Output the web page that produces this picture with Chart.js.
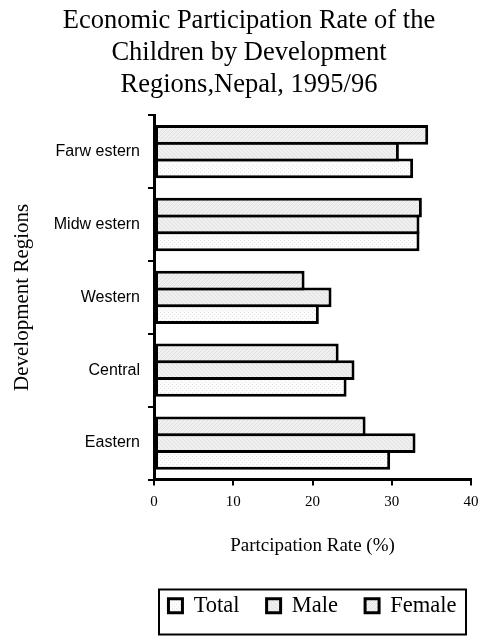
<!DOCTYPE html>
<html>
<head>
<meta charset="utf-8">
<script src="https://cdn.jsdelivr.net/npm/chart.js@4/dist/chart.umd.min.js"></script>
<style>
  html, body { margin: 0; padding: 0; background: #fff; }
  #wrap { width: 483px; height: 637px; position: relative; }
</style>
</head>
<body>
<div id="wrap"><canvas id="chart" width="483" height="637"></canvas></div>
<script>
// data
const regions = ['Farw estern', 'Midw estern', 'Western', 'Central', 'Eastern']
const totalRate = [32.7, 33.5, 20.8, 24.3, 29.8]
const maleRate = [30.9, 33.5, 22.4, 25.3, 33.0]
const femaleRate = [34.6, 33.8, 19.0, 23.3, 26.7]
const xTicks = [0, 10, 20, 30, 40]

const titleLines = ['Economic Participation Rate of the', 'Children by Development', 'Regions,Nepal, 1995/96']

// small fill patterns like the old spreadsheet hatching
const makePattern = (base, ink, kind) => {
    const c = document.createElement('canvas')
    c.width = 4
    c.height = 4
    const g = c.getContext('2d')
    g.fillStyle = base
    g.fillRect(0, 0, 4, 4)
    g.fillStyle = ink
    if (kind === 'dots') {
        g.fillRect(0, 0, 1, 1)
        g.fillRect(2, 2, 1, 1)
    } else if (kind === 'diag') {
        for (let i = 0; i < 4; i++) g.fillRect(i, 3 - i, 1, 1)
    } else {
        for (let i = 0; i < 4; i++) g.fillRect(i, i, 1, 1)
    }
    return g.createPattern(c, 'repeat')
}

const serif = 'Liberation Serif'
const sans = 'Liberation Sans'

// legend box outline + centring the legend under the plot area
const legendFrame = {
    id: 'legendFrame',
    afterLayout(chart) {
        const area = chart.chartArea
        const lg = chart.legend
        const xs = chart.scales.x
        lg.left = area.left - 30
        lg.right = area.right + 30
        const pad = lg.options.labels.padding
        lg.top = xs.bottom + 44 - pad - 11
        chart.titleBlock.left += 5
        chart.titleBlock.right += 5
    },
    afterDraw(chart) {
        const area = chart.chartArea
        const xs = chart.scales.x
        const ctx = chart.ctx
        const cy = xs.bottom + 43
        ctx.save()
        ctx.strokeStyle = '#000'
        ctx.lineWidth = 2
        ctx.strokeRect(area.left + 5, cy - 15, area.right - area.left - 10, 45)
        ctx.restore()
    }
}

self.addEventListener('DOMContentLoaded', () => {
    const barStyle = {
        borderColor: '#000',
        borderWidth: 3,
        borderSkipped: false,
        categoryPercentage: 0.69,
        barPercentage: 1.18
    }

    new Chart(document.getElementById('chart'), {
        type: 'bar',
        data: {
            labels: regions,
            datasets: [
                { label: 'Female', data: femaleRate, backgroundColor: makePattern('#f0f0f0', '#e0e0e0', 'diag'), ...barStyle },
                { label: 'Male', data: maleRate, backgroundColor: makePattern('#efefef', '#e1e1e1', 'anti'), ...barStyle },
                { label: 'Total', data: totalRate, backgroundColor: makePattern('#fcfcfc', '#e6e6e6', 'dots'), ...barStyle }
            ]
        },
        plugins: [legendFrame],
        options: {
            indexAxis: 'y',
            responsive: false,
            animation: false,
            layout: { padding: { left: 5, right: 0, top: 0, bottom: 16 } },
            plugins: {
                title: {
                    display: true,
                    text: titleLines,
                    color: '#000',
                    font: { family: serif, size: 26.5, weight: 'normal', lineHeight: 1.21 },
                    padding: { top: 5, bottom: 14 }
                },
                legend: {
                    position: 'bottom',
                    reverse: true,
                    labels: {
                        color: '#000',
                        boxWidth: 14,
                        boxHeight: 14,
                        padding: 27,
                        font: { family: serif, size: 22.5 }
                    }
                },
                tooltip: { enabled: false }
            },
            scales: {
                x: {
                    min: 0,
                    max: 40,
                    afterBuildTicks: (scale) => {
                        scale.ticks = xTicks.map(v => ({ value: v }))
                    },
                    afterFit: (scale) => {
                        scale.height = 82
                        scale.paddingRight = 12
                    },
                    border: { display: true, color: '#000', width: 3 },
                    grid: { drawOnChartArea: false, color: '#000', lineWidth: 2, tickLength: 6 },
                    ticks: { color: '#000', padding: 8, font: { family: serif, size: 15 } },
                    title: {
                        display: true,
                        text: 'Partcipation Rate (%)',
                        color: '#000',
                        font: { family: serif, size: 19 },
                        padding: { top: 0, bottom: 4 }
                    }
                },
                y: {
                    afterFit: (scale) => {
                        scale.width = 149
                    },
                    border: { display: true, color: '#000', width: 3 },
                    grid: { drawOnChartArea: false, color: '#000', lineWidth: 2, tickLength: 6, offset: true },
                    ticks: { color: '#000', padding: 8, font: { family: sans, size: 16 } },
                    title: {
                        display: true,
                        text: 'Development Regions',
                        color: '#000',
                        font: { family: serif, size: 21 },
                        padding: { top: 5, bottom: 0 }
                    }
                }
            }
        }
    })
})
</script>
</body>
</html>
